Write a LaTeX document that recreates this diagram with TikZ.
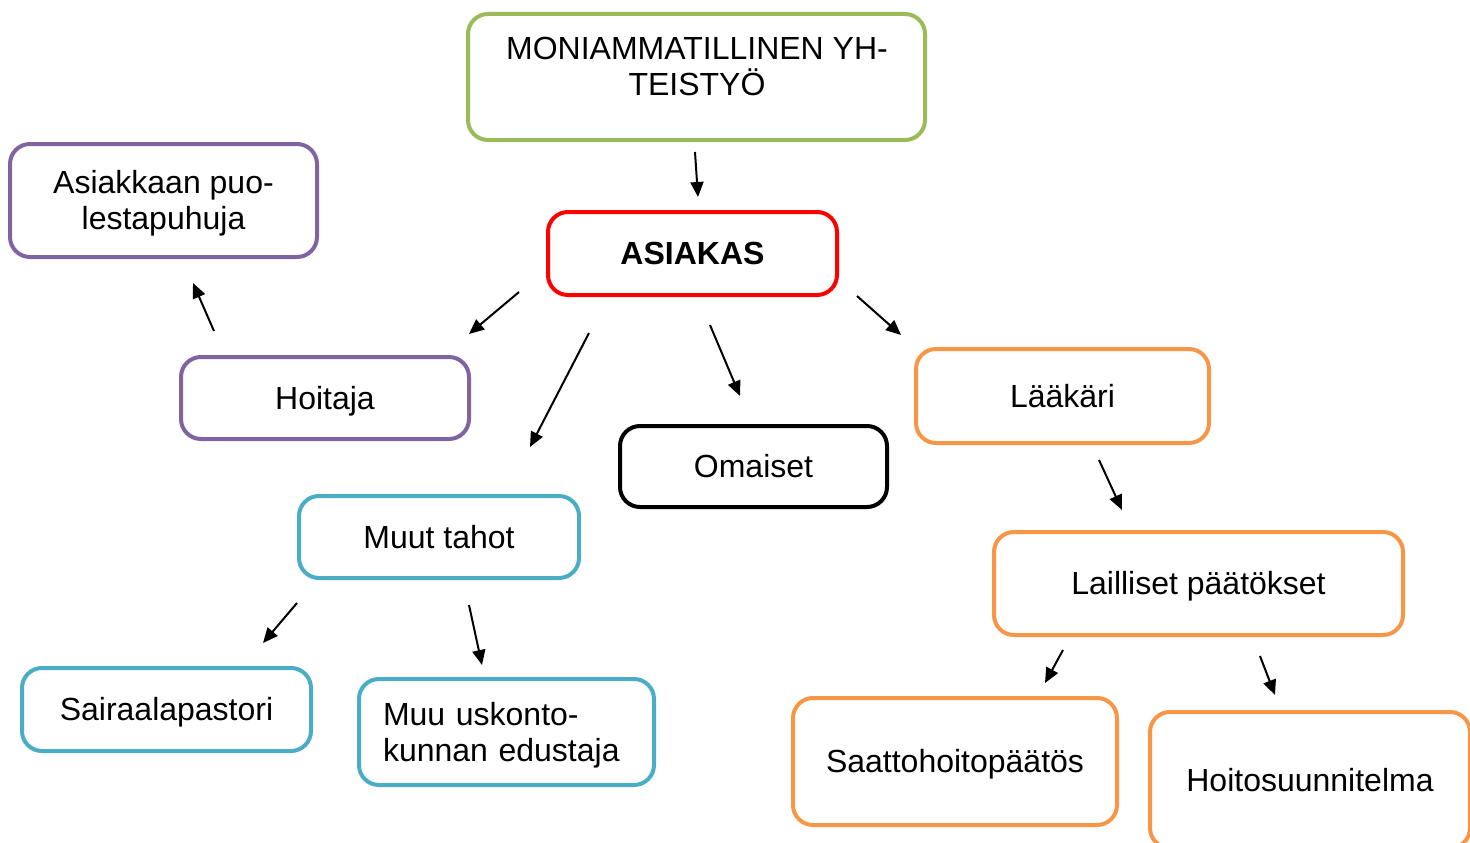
\documentclass[tikz,border=0pt]{standalone}
\usepackage{fontspec}
\setmainfont{Liberation Sans}
\usetikzlibrary{arrows.meta}
\definecolor{cgreen}{HTML}{9BBB59}
\definecolor{cred}{HTML}{FF0000}
\definecolor{cpurple}{HTML}{8064A2}
\definecolor{corange}{HTML}{F79646}
\definecolor{cteal}{HTML}{4BACC6}
\begin{document}
\begin{tikzpicture}[x=1pt,y=-1pt,
  box/.style={draw, rounded corners=20pt, line width=4pt, align=center,
    font=\fontsize{32}{36}\selectfont, inner sep=0pt, text height=29.5pt, text depth=7pt},
  twoline/.style={text height=65.5pt, text depth=7pt},
  twolinetw/.style={text height=29.5pt, text depth=43pt},
  txt/.style={align=center, font=\fontsize{32}{36}\selectfont, inner sep=0pt, text height=65.5pt, text depth=7pt},
  arr/.style={-{Triangle[length=15pt,width=13pt]}, line width=2pt}]
\useasboundingbox (0,0) rectangle (1470,843);
% boxes
\node[box, draw=cgreen, minimum width=457pt, minimum height=126pt] (moni) at (696.5,77) {};
\node[txt] (monitext) at (697,66.5) {MONIAMMATILLINEN YH-\\TEISTYÖ};
\node[box, draw=cred, minimum width=289pt, minimum height=83pt, font=\fontsize{32}{36}\selectfont\bfseries] (asiakas) at (692.5,253.5) {ASIAKAS};
\node[box, twoline, draw=cpurple, minimum width=307pt, minimum height=113pt] (puol) at (163.5,200.5) {Asiakkaan puo-\\lestapuhuja};
\node[box, draw=cpurple, minimum width=288pt, minimum height=82pt] (hoitaja) at (325,398) {Hoitaja};
\node[box, draw=corange, minimum width=293pt, minimum height=94pt] (laakari) at (1062.5,396) {Lääkäri};
\node[box, draw=black, minimum width=267pt, minimum height=81pt] (omaiset) at (753.5,466.5) {Omaiset};
\node[box, draw=cteal, minimum width=280pt, minimum height=82pt] (muut) at (439,537) {Muut tahot};
\node[box, draw=corange, minimum width=409pt, minimum height=103pt] (lailliset) at (1198.5,583.5) {Lailliset päätökset};
\node[box, draw=cteal, minimum width=289pt, minimum height=83pt] (pastori) at (166.5,709.5) {Sairaalapastori};
\node[box, twolinetw, draw=cteal, minimum width=291pt, minimum height=106pt, align=left, text width=247pt, inner xsep=24pt] (usko) at (506.5,732) {Muu uskonto-\\kunnan edustaja};
\node[box, draw=corange, minimum width=324pt, minimum height=127pt] (saatto) at (955,761.5) {Saattohoitopäätös};
\node[box, draw=corange, minimum width=320pt, minimum height=136pt] (hoitos) at (1310,780) {Hoitosuunnitelma};
% arrow end points
\coordinate (a1s) at (695,152); \coordinate (a1e) at (698,197);
\coordinate (a2s) at (519,292); \coordinate (a2e) at (469,334);
\coordinate (a3s) at (589,333); \coordinate (a3e) at (530,447);
\coordinate (a4s) at (710,325); \coordinate (a4e) at (740,396);
\coordinate (a5s) at (857,296); \coordinate (a5e) at (901,335);
\coordinate (a6s) at (214,331); \coordinate (a6e) at (193,283);
\coordinate (a7s) at (1099,460); \coordinate (a7e) at (1122,510);
\coordinate (a8s) at (297,603); \coordinate (a8e) at (263,643);
\coordinate (a9s) at (469,605); \coordinate (a9e) at (482,665);
\coordinate (a10s) at (1063,650); \coordinate (a10e) at (1045,683);
\coordinate (a11s) at (1260,656); \coordinate (a11e) at (1275,695);
\foreach \i in {1,...,11} {\draw[arr] (a\i s) -- (a\i e);}
\end{tikzpicture}
\end{document}
